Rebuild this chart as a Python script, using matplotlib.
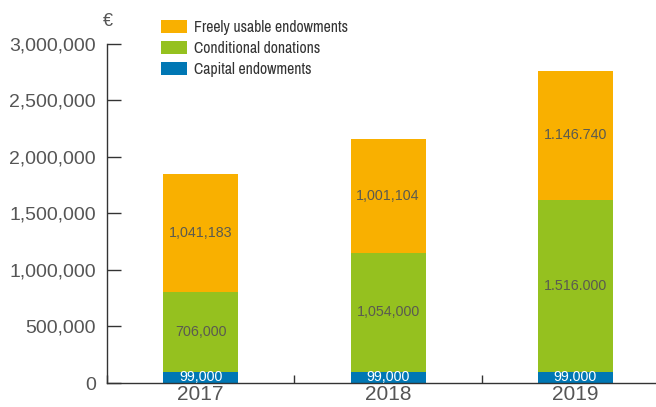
import matplotlib
matplotlib.use("Agg")
import matplotlib.pyplot as plt
from matplotlib.ticker import FixedLocator, FuncFormatter
from matplotlib import font_manager
from matplotlib.font_manager import FontProperties

years = ["2017", "2018", "2019"]
capital = [99000, 99000, 99000]
conditional = [706000, 1054000, 1516000]
freely = [1041183, 1001104, 1146740]
capital_labels = ["99,000", "99,000", "99.000"]
conditional_labels = ["706,000", "1,054,000", "1.516.000"]
freely_labels = ["1,041,183", "1,001,104", "1.146.740"]
series_names = ["Capital endowments", "Conditional donations", "Freely usable endowments"]
yticks = [0, 500000, 1000000, 1500000, 2000000, 2500000, 3000000]

c_blue = "#0077B4"
c_green = "#95C11F"
c_orange = "#F9B000"
gray = "#555555"
lbl = "#5A5A50"

# pick a condensed font for the legend if one is installed
fonts = font_manager.fontManager.ttflist
cond = [f for f in fonts if ("Narrow" in f.name or "Condensed" in f.name)]
cond_stretch = [f for f in fonts if f.stretch in ("condensed", "semi-condensed", 500, 600, 400, 300)
                and f.weight in ("normal", 400, "regular", "book")]
if cond:
    legend_prop = FontProperties(family=cond[0].name, size=11)
elif cond_stretch:
    legend_prop = FontProperties(fname=cond_stretch[0].fname, size=11)
else:
    legend_prop = FontProperties(family="Liberation Sans", size=11)

plt.rcParams["font.family"] = ["Liberation Sans", "DejaVu Sans"]

fig = plt.figure(figsize=(6.56, 4.07), dpi=100)
W, H = 656, 407
ax = fig.add_axes([107 / W, (H - 383) / H, (656 - 107) / W, (383 - 43.7) / H])

x = list(range(len(years)))
bw = 0.4
b1 = ax.bar(x, capital, bw, color=c_blue, label=series_names[0], zorder=2)
b2 = ax.bar(x, conditional, bw, bottom=capital, color=c_green, label=series_names[1], zorder=2)
bottom3 = [a + b for a, b in zip(capital, conditional)]
b3 = ax.bar(x, freely, bw, bottom=bottom3, color=c_orange, label=series_names[2], zorder=2)

ax.bar_label(b1, labels=capital_labels, label_type="center", color="white", fontsize=10.3)
ax.bar_label(b2, labels=conditional_labels, label_type="center", color=lbl, fontsize=10.3)
ax.bar_label(b3, labels=freely_labels, label_type="center", color=lbl, fontsize=10.3)

ax.set_xlim(-0.5, 2.43)
ax.set_ylim(0, 3000000)

for s in ["top", "right"]:
    ax.spines[s].set_visible(False)
for s in ["left", "bottom"]:
    ax.spines[s].set_color("#333333")
    ax.spines[s].set_linewidth(1.0)

ax.yaxis.set_major_locator(FixedLocator(yticks))
ax.yaxis.set_major_formatter(FuncFormatter(lambda v, p: f"{int(v):,}"))
ax.tick_params(axis="y", direction="in", length=10, width=1.0, color="#333333",
               labelsize=14, labelcolor=gray, pad=8)
ax.set_xticks(x)
ax.set_xticklabels(years)
ax.tick_params(axis="x", which="major", length=0, labelsize=15, labelcolor=gray, pad=1.5)
ax.xaxis.set_minor_locator(FixedLocator([-0.5, 0.5, 1.5]))
ax.tick_params(axis="x", which="minor", direction="in", length=6, width=1.0, color="#333333")

fig.text(108 / W, 1 - 22 / H, "€", ha="center", va="center", fontsize=13, color=gray)

# scale legend font so the longest label is ~154 px wide
renderer = fig.canvas.get_renderer()
probe = fig.text(0, 0, series_names[2], fontproperties=legend_prop)
wpx = probe.get_window_extent(renderer).width
probe.remove()
legend_prop.set_size(min(12.5, 11 * 154.0 / wpx))

handles = [b3, b2, b1]
fs = legend_prop.get_size()
fpx = fs * 100 / 72
leg = fig.legend(handles, [series_names[2], series_names[1], series_names[0]],
                 loc="upper left", bbox_to_anchor=(158 / W, 1 - 17 / H), frameon=False,
                 prop=legend_prop,
                 handlelength=26 / fpx, handleheight=14 / fpx,
                 handletextpad=7 / fpx, labelspacing=0.38, borderpad=0.2, borderaxespad=0)
for t in leg.get_texts():
    t.set_color("#333333")

fig.savefig("out.png", dpi=100)
